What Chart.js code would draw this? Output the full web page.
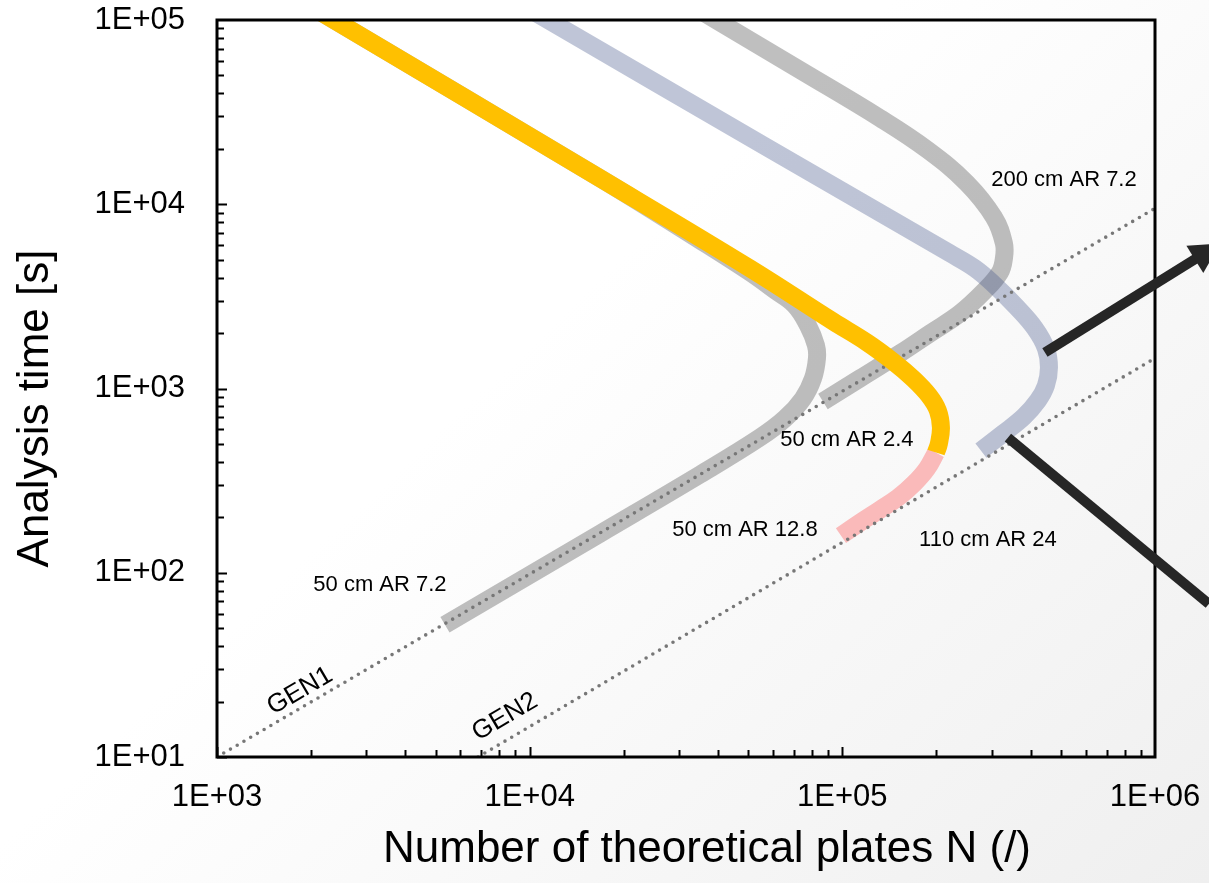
<!DOCTYPE html>
<html>
<head>
<meta charset="utf-8">
<title>Kinetic plot</title>
<script src="https://cdn.jsdelivr.net/npm/chart.js@4.4.0/dist/chart.umd.min.js"></script>
<style>
  html, body { margin: 0; padding: 0; background: #fff; }
  #grafico { display: block; }
</style>
</head>
<body>
<canvas id="grafico" width="1209" height="883"></canvas>
<script>
// fonte parecida com Arial
const fonte = "Arial, 'Liberation Sans', sans-serif";

// ticks dos eixos
const xTicks = [1e3, 1e4, 1e5, 1e6];
const xTickLabels = ['1E+03', '1E+04', '1E+05', '1E+06'];
const yTicks = [1e1, 1e2, 1e3, 1e4, 1e5];
const yTickLabels = ['1E+01', '1E+02', '1E+03', '1E+04', '1E+05'];

// títulos dos eixos
const tituloX = 'Number of theoretical plates N (/)';
const tituloY = 'Analysis time [s]';

// 50 cm AR 2.4 (amarelo)
const amareloN = [1190, 2366, 16790, 50640, 93330, 119900, 145200, 168200, 189200, 202100, 206700, 203600, 199300];
const amareloT = [200000, 100000, 13840, 4487, 2312, 1778, 1402, 1133, 916, 759, 614, 502, 449];

// 50 cm AR 12.8 (rosa, continua o amarelo)
const rosaN = [199300, 186500, 169400, 150600, 131900, 113800, 99000];
const rosaT = [449, 367.5, 304.6, 255.6, 220, 186.9, 159];

// 50 cm AR 7.2 (cinza)
const cinza50N = [1190, 2366, 16790, 35050, 50640, 60880, 70530, 77620, 82350, 82950, 80540, 74820, 65550, 54510, 35050, 16780, 5359];
const cinza50T = [200000, 100000, 13840, 6373, 4270, 3409, 2826, 2200, 1713, 1456, 1133, 882, 687, 541.7, 340.9, 163, 52.2];

// 200 cm AR 7.2 (cinza)
const cinza200N = [20000, 39430, 73180, 131900, 187800, 250300, 305400, 328700, 328700, 319200, 285800, 237700, 190600, 152900, 113800, 86700];
const cinza200T = [200000, 100000, 53490, 29340, 19660, 13010, 8500, 6138, 5088, 4270, 3409, 2556, 1990, 1550, 1133, 850];

// 110 cm AR 24 (azul acinzentado)
const azulN = [5690, 11440, 56560, 220900, 265500, 307600, 361700, 413000, 447900, 458000, 447900, 422300, 380900, 326300, 277500];
const azulT = [200000, 100000, 20660, 5416, 4489, 3629, 2755, 2120, 1650, 1301, 1038, 860, 704, 569, 460];

// linhas pontilhadas GEN1 e GEN2
const gen1N = [1000, 1000000];
const gen1T = [10, 9500];
const gen2N = [6840, 1000000];
const gen2T = [10, 1460];

// textos dentro do gráfico
const rotulos = ['200 cm AR 7.2', '50 cm AR 2.4', '50 cm AR 12.8', '110 cm AR 24', '50 cm AR 7.2'];
const rotulosN = [511500, 103400, 48800, 292200, 3320];
const rotulosT = [13500, 528, 171, 151, 86];
const genRotulos = ['GEN1', 'GEN2'];
const genRotulosN = [1843, 8337];
const genRotulosT = [22.8, 16.5];

// setas pretas (início e fim, fora do gráfico à direita)
const seta1N = [444600, 1341000];
const seta1T = [1570, 5023];
const seta2N = [338500, 1487000];
const seta2T = [541.7, 67.8];

function pares(ns, ts) {
    return ns.map((n, i) => ({ x: n, y: ts[i] }));
}

function curva(label, ns, ts, cor, ordem) {
    return {
        label: label,
        data: pares(ns, ts),
        showLine: true,
        borderColor: cor,
        borderWidth: 18,
        borderCapStyle: 'butt',
        borderJoinStyle: 'round',
        tension: 0.4,
        pointRadius: 0,
        fill: false,
        clip: 0,
        order: ordem
    };
}

function pontilhada(label, ns, ts) {
    return {
        label: label,
        data: pares(ns, ts),
        showLine: true,
        borderColor: '#777777',
        borderWidth: 3.6,
        borderDash: [0, 7.8],
        borderCapStyle: 'round',
        tension: 0,
        pointRadius: 0,
        fill: false,
        order: 1
    };
}

// fundo do slide com leve degradê
const fundo = {
    id: 'fundo',
    beforeDraw(chart) {
        const ctx = chart.ctx;
        const g = ctx.createLinearGradient(620, 260, 1209, 883);
        g.addColorStop(0, '#ffffff');
        g.addColorStop(1, '#efefef');
        ctx.save();
        ctx.fillStyle = g;
        ctx.fillRect(0, 0, chart.width, chart.height);
        ctx.restore();
    }
};

// moldura preta e ticks para dentro
const moldura = {
    id: 'moldura',
    afterDatasetsDraw(chart) {
        const { ctx, chartArea: a, scales: { x, y } } = chart;
        ctx.save();
        ctx.strokeStyle = '#000';
        ctx.lineWidth = 2;
        ctx.beginPath();
        xTicks.forEach((d, i) => {
            if (i === xTicks.length - 1) return;
            for (let k = 1; k < 10; k++) {
                const px = Math.round(x.getPixelForValue(k * d)) + 0.5;
                const len = k === 1 ? 10 : 7;
                ctx.moveTo(px, a.bottom);
                ctx.lineTo(px, a.bottom - len);
            }
        });
        yTicks.forEach((d, i) => {
            if (i === yTicks.length - 1) return;
            for (let k = 1; k < 10; k++) {
                const py = Math.round(y.getPixelForValue(k * d)) + 0.5;
                const len = k === 1 ? 10 : 7;
                ctx.moveTo(a.left, py);
                ctx.lineTo(a.left + len, py);
            }
        });
        ctx.stroke();
        ctx.lineWidth = 3;
        ctx.strokeRect(a.left, a.top, a.right - a.left, a.bottom - a.top);
        ctx.restore();
    }
};

// títulos, textos e setas
const anotacoes = {
    id: 'anotacoes',
    afterDraw(chart) {
        const { ctx, chartArea: a, scales: { x, y } } = chart;
        ctx.save();
        ctx.fillStyle = '#000';
        ctx.textAlign = 'center';
        ctx.textBaseline = 'middle';

        // títulos dos eixos (um pouco fora do centro, como no slide)
        ctx.font = '44px ' + fonte;
        ctx.fillText(tituloX, (a.left + a.right) / 2 + 21, a.bottom + 93);
        ctx.save();
        ctx.translate(36, (a.top + a.bottom) / 2 + 20);
        ctx.rotate(-Math.PI / 2);
        ctx.fillText(tituloY, 0, 0);
        ctx.restore();

        ctx.font = '22px ' + fonte;
        rotulos.forEach((t, i) => {
            ctx.fillText(t, x.getPixelForValue(rotulosN[i]), y.getPixelForValue(rotulosT[i]));
        });

        // GEN1 / GEN2 inclinados como a linha
        ctx.font = '26px ' + fonte;
        const linhas = [[gen1N, gen1T], [gen2N, gen2T]];
        genRotulos.forEach((t, i) => {
            const [ns, ts] = linhas[i];
            const ang = Math.atan2(
                y.getPixelForValue(ts[1]) - y.getPixelForValue(ts[0]),
                x.getPixelForValue(ns[1]) - x.getPixelForValue(ns[0]));
            ctx.save();
            ctx.translate(x.getPixelForValue(genRotulosN[i]), y.getPixelForValue(genRotulosT[i]));
            ctx.rotate(ang);
            ctx.fillText(t, 0, 0);
            ctx.restore();
        });

        // setas
        ctx.strokeStyle = '#262626';
        ctx.fillStyle = '#262626';
        ctx.lineWidth = 10;
        ctx.lineCap = 'butt';
        const s1a = [x.getPixelForValue(seta1N[0]), y.getPixelForValue(seta1T[0])];
        const s1b = [x.getPixelForValue(seta1N[1]), y.getPixelForValue(seta1T[1])];
        const dx = s1b[0] - s1a[0], dy = s1b[1] - s1a[1];
        const len = Math.hypot(dx, dy);
        const ux = dx / len, uy = dy / len;
        ctx.beginPath();
        ctx.moveTo(s1a[0], s1a[1]);
        ctx.lineTo(s1b[0] + ux, s1b[1] + uy);
        ctx.stroke();
        ctx.beginPath();
        ctx.moveTo(s1b[0] - uy * 16, s1b[1] + ux * 16);
        ctx.lineTo(s1b[0] + uy * 16, s1b[1] - ux * 16);
        ctx.lineTo(s1b[0] + ux * 30, s1b[1] + uy * 30);
        ctx.closePath();
        ctx.fill();

        ctx.beginPath();
        ctx.moveTo(x.getPixelForValue(seta2N[0]), y.getPixelForValue(seta2T[0]));
        ctx.lineTo(x.getPixelForValue(seta2N[1]), y.getPixelForValue(seta2T[1]));
        ctx.stroke();
        ctx.restore();
    }
};

const ctx = document.getElementById('grafico').getContext('2d');
const grafico = new Chart(ctx, {
    type: 'scatter',
    data: {
        datasets: [
            curva('50 cm AR 2.4', amareloN, amareloT, '#ffc000', 0),
            pontilhada('GEN1', gen1N, gen1T),
            pontilhada('GEN2', gen2N, gen2T),
            curva('50 cm AR 12.8', rosaN, rosaT, 'rgba(255, 0, 0, 0.25)', 2),
            curva('110 cm AR 24', azulN, azulT, 'rgba(72, 89, 141, 0.35)', 3),
            curva('200 cm AR 7.2', cinza200N, cinza200T, 'rgba(72, 72, 72, 0.35)', 4),
            curva('50 cm AR 7.2', cinza50N, cinza50T, 'rgba(72, 72, 72, 0.35)', 5)
        ]
    },
    options: {
        responsive: false,
        animation: false,
        layout: { padding: { top: 20, right: 54, left: 0, bottom: 0 } },
        plugins: {
            legend: { display: false },
            tooltip: { enabled: false }
        },
        scales: {
            x: {
                type: 'logarithmic',
                min: 1e3,
                max: 1e6,
                grid: { display: false, drawTicks: false },
                border: { display: false },
                afterBuildTicks: (s) => { s.ticks = xTicks.map(v => ({ value: v })); },
                afterFit: (s) => {
                    s.height = 126;
                    s.paddingLeft = 0;
                    s.paddingRight = 0;
                },
                ticks: {
                    callback: (v, i) => xTickLabels[i],
                    color: '#000',
                    font: { family: fonte, size: 31 },
                    padding: 22,
                    maxRotation: 0,
                    autoSkip: false
                },
                title: { display: false }
            },
            y: {
                type: 'logarithmic',
                min: 1e1,
                max: 1e5,
                grid: { display: false, drawTicks: false },
                border: { display: false },
                afterBuildTicks: (s) => { s.ticks = yTicks.map(v => ({ value: v })); },
                afterFit: (s) => {
                    s.width = 217;
                    s.paddingTop = 0;
                    s.paddingBottom = 0;
                },
                ticks: {
                    callback: (v, i) => yTickLabels[i],
                    color: '#000',
                    font: { family: fonte, size: 31 },
                    padding: 32,
                    autoSkip: false
                },
                title: { display: false }
            }
        }
    },
    plugins: [fundo, moldura, anotacoes]
});
</script>
</body>
</html>
